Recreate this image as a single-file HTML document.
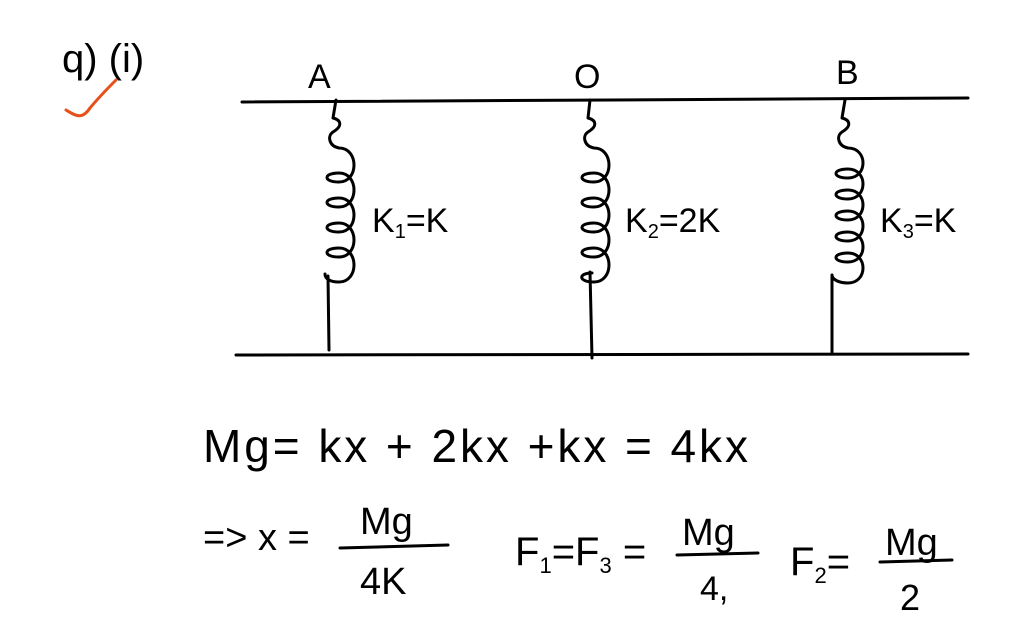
<!DOCTYPE html>
<html><head><meta charset="utf-8"><style>
html,body{margin:0;padding:0;background:#fff;}
svg{display:block;}
text{font-family:"Liberation Sans",sans-serif;fill:#000;}
</style></head><body>
<svg width="1023" height="631" viewBox="0 0 1023 631" xmlns="http://www.w3.org/2000/svg">
<g fill="none" stroke="#000" stroke-width="3" stroke-linecap="round" stroke-linejoin="round">
<path d="M242 102 L968 98"/>
<path d="M236 355 L968 354"/>
<!-- spring A -->
<path d="M336 100 L333 118 c8,2 10,8 0,14 c-6,4 -4,14 6,16 c20,0 20,34 0,34 c-16,0 -16,-9 0,-9 c20,0 20,34 0,34 c-16,0 -16,-9 0,-9 c20,0 20,34 0,34 c-16,0 -16,-9 0,-9 c20,0 20,34 0,34 c-16,0 -16,-9 0,-9 c20,0 20,34 0,34 c-10,0 -14,-4 -14,-8"/>
<path d="M328 276 L329 350"/>
<!-- spring O -->
<path d="M590 100 L588 118 c8,2 10,8 0,14 c-6,4 -4,14 6,16 c20,0 20,34 0,34 c-16,0 -16,-9 0,-9 c20,0 20,34 0,34 c-16,0 -16,-9 0,-9 c20,0 20,34 0,34 c-16,0 -16,-9 0,-9 c20,0 20,34 0,34 c-16,0 -16,-9 0,-9 c20,0 20,34 0,34 c-16,0 -16,-9 -2,-9"/>
<path d="M590 272 L592 358"/>
<!-- spring B -->
<path d="M845 100 L842 118 c8,2 10,8 0,14 c-6,4 -4,14 6,16 c20,0 20,30 0,30 c-16,0 -16,-9 0,-9 c20,0 20,30 0,30 c-16,0 -16,-9 0,-9 c20,0 20,30 0,30 c-16,0 -16,-9 0,-9 c20,0 20,30 0,30 c-16,0 -16,-9 0,-9 c20,0 20,30 0,30 c-16,0 -16,-9 0,-9 c20,0 20,30 0,30 c-10,0 -16,-4 -16,-8"/>
<path d="M832 276 L832 352"/>
<!-- fraction bars -->
<path d="M340 548 L448 545"/>
<path d="M677 555 L758 553"/>
<path d="M880 562 L952 560"/>
</g>
<path d="M66 110 c10,6 16,10 24,-2 c10,-12 20,-22 26,-28" fill="none" stroke="#e8501a" stroke-width="3" stroke-linecap="round"/>
<text x="62" y="72" font-size="40">q) (i)</text>
<text x="308" y="88" font-size="34">A</text>
<text x="574" y="88" font-size="34">O</text>
<text x="836" y="84" font-size="34">B</text>
<text x="372" y="232" font-size="34">K<tspan font-size="20" dy="6">1</tspan><tspan dy="-6">=K</tspan></text>
<text x="625" y="232" font-size="34">K<tspan font-size="20" dy="6">2</tspan><tspan dy="-6">=2K</tspan></text>
<text x="880" y="232" font-size="34">K<tspan font-size="20" dy="6">3</tspan><tspan dy="-6">=K</tspan></text>
<text x="203" y="462" font-size="46" textLength="545" lengthAdjust="spacing">Mg= kx + 2kx +kx = 4kx</text>
<text x="203" y="550" font-size="38">=&gt; x =</text>
<text x="360" y="534" font-size="38">Mg</text>
<text x="360" y="594" font-size="38">4K</text>
<text x="515" y="565" font-size="40">F<tspan font-size="22" dy="8">1</tspan><tspan dy="-8">=F</tspan><tspan font-size="22" dy="8">3</tspan><tspan dy="-8"> =</tspan></text>
<text x="682" y="545" font-size="38">Mg</text>
<text x="700" y="600" font-size="34">4,</text>
<text x="790" y="575" font-size="40">F<tspan font-size="22" dy="8">2</tspan><tspan dy="-8">=</tspan></text>
<text x="885" y="555" font-size="38">Mg</text>
<text x="900" y="610" font-size="36">2</text>
</svg>
</body></html>
